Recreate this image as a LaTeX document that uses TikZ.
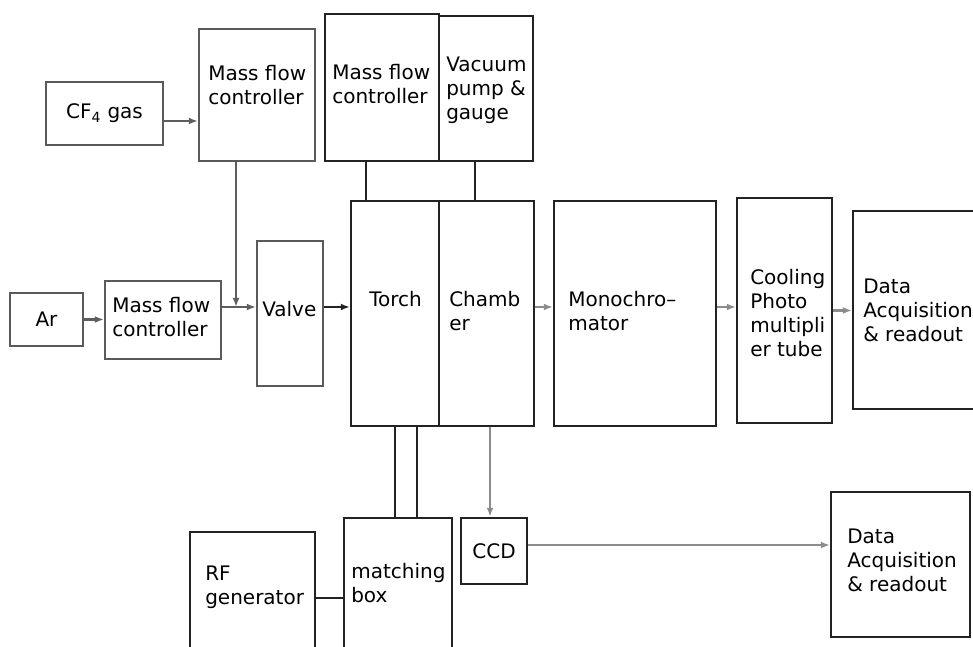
\documentclass[tikz,border=0pt]{standalone}
\usepackage{fontspec}
\setmainfont{DejaVu Sans}
\usetikzlibrary{arrows.meta}

\definecolor{boxgray}{HTML}{5A5A5A}
\definecolor{boxblack}{HTML}{222222}
\definecolor{flowgray}{HTML}{5E5E5E}
\definecolor{flowlight}{HTML}{8C8C8C}
\def\px{0.75pt}

\begin{document}
\begin{tikzpicture}[
    x=0.75pt, y=-0.75pt,
    font=\fontsize{15}{18}\selectfont,
    gbox/.style={draw=boxgray, line width=1.7pt, inner sep=0pt},
    kbox/.style={draw=boxblack, line width=1.7pt, inner sep=0pt},
    txt/.style={anchor=north west, inner sep=0pt, align=left},
    gflow/.style={draw=flowgray, line width=1.6pt, -{Latex[length=6.8pt,width=5.2pt]}},
    kflow/.style={draw=boxblack, line width=1.6pt, -{Latex[length=6.8pt,width=5.2pt]}},
    lflow/.style={draw=flowlight, line width=1.6pt, -{Latex[length=6.8pt,width=5.2pt]}},
    wire/.style={draw=boxblack, line width=1.7pt}]

  \useasboundingbox (0,0) rectangle (973,646);
  \fill[white] (0,0) rectangle (973,646);
  \clip (0,0) rectangle (973,646);

  % gas feed
  \node[gbox, minimum width=117*\px, minimum height=63*\px] (cf4) at (104.5,113.5)
    {CF\textsubscript{4} gas};
  \node[gbox, minimum width=116*\px, minimum height=132*\px] (mfc1) at (257,95) {};
  \node[txt] (mfc1-t) at (208,65) {Mass flow\\controller};
  \node[gbox, minimum width=73*\px, minimum height=53*\px] (ar) at (46.5,319.5) {Ar};
  \node[gbox, minimum width=116*\px, minimum height=78*\px] (mfc3) at (163,320) {};
  \node[txt] (mfc3-t) at (112,297) {Mass flow\\controller};
  \node[gbox, minimum width=66*\px, minimum height=145*\px] (valve) at (290,313.5) {};
  \node[txt] (valve-t) at (262,301) {Valve};

  % top units
  \node[kbox, minimum width=114*\px, minimum height=147*\px] (mfc2) at (382,87.5) {};
  \node[txt] (mfc2-t) at (332,64) {Mass flow\\controller};
  \node[kbox, minimum width=94*\px, minimum height=145*\px] (vac) at (486,88.5) {};
  \node[txt] (vac-t) at (446,57) {Vacuum\\pump \&\\gauge};

  % main line
  \node[kbox, minimum width=88*\px, minimum height=225*\px] (torch) at (395,313.5) {};
  \node[txt] (torch-t) at (369,291) {Torch};
  \node[kbox, minimum width=95*\px, minimum height=225*\px] (chamber) at (486.5,313.5) {};
  \node[txt] (chamber-t) at (449,291) {Chamb\\er};
  \node[kbox, minimum width=162*\px, minimum height=225*\px] (mono) at (635,313.5) {};
  \node[txt] (mono-t) at (568,291) {Monochro–\\mator};
  \node[kbox, minimum width=95*\px, minimum height=225*\px] (pmt) at (784.5,310.5) {};
  \node[txt] (pmt-t) at (750,269) {Cooling\\Photo\\multipli\\er tube};
  \node[kbox, minimum width=137*\px, minimum height=198*\px] (daq1) at (921.5,310) {};
  \node[txt] (daq1-t) at (863,279) {Data\\Acquisition\\\& readout};

  % bottom units
  \node[kbox, minimum width=125*\px, minimum height=132*\px] (rf) at (252.5,598) {};
  \node[txt] (rf-t) at (205,566) {RF\\generator};
  \node[kbox, minimum width=108*\px, minimum height=160*\px] (match) at (398,598) {};
  \node[txt] (match-t) at (351,563) {matching\\box};
  \node[kbox, minimum width=66*\px, minimum height=66*\px] (ccd) at (494,551) {CCD};
  \node[kbox, minimum width=139*\px, minimum height=145*\px] (daq2) at (900.5,564.5) {};
  \node[txt] (daq2-t) at (847,529) {Data\\Acquisition\\\& readout};

  \coordinate (flowy) at (0,307);
  \coordinate (jx) at (236,0);

  \draw[gflow] ([yshift=-5.6pt]cf4.east) -- ([yshift=-5.6pt]cf4.east -| mfc1.west);
  \draw[gflow] (ar.east) -- (ar.east -| mfc3.west);
  \draw[gflow] (mfc3.east |- flowy) -- (valve.west |- flowy);
  \draw[gflow] (jx |- mfc1.south) -- (jx |- flowy);
  \draw[kflow] (valve.east |- flowy) -- (torch.west |- flowy);
  \draw[lflow] (chamber.east |- flowy) -- (mono.west |- flowy);
  \draw[lflow] (mono.east |- flowy) -- (pmt.west |- flowy);
  \draw[lflow] (pmt.east) -- (pmt.east -| daq1.west);
  \draw[lflow] ([xshift=-3pt]ccd.north |- chamber.south) -- ([xshift=-3pt]ccd.north);
  \draw[lflow] ([yshift=4.5pt]ccd.east) -- ([yshift=4.5pt]ccd.east -| daq2.west);

  \draw[wire] ([xshift=-12pt]mfc2.south) -- ([xshift=-12pt]mfc2.south |- torch.north);
  \draw[wire] ([xshift=-8.25pt]vac.south) -- ([xshift=-8.25pt]vac.south |- chamber.north);
  \draw[wire] (torch.south) -- (torch.south |- match.north);
  \draw[wire] ([xshift=16.5pt]torch.south) -- ([xshift=16.5pt]torch.south |- match.north);
  \draw[wire] (rf.east) -- (match.west);
\end{tikzpicture}
\end{document}
